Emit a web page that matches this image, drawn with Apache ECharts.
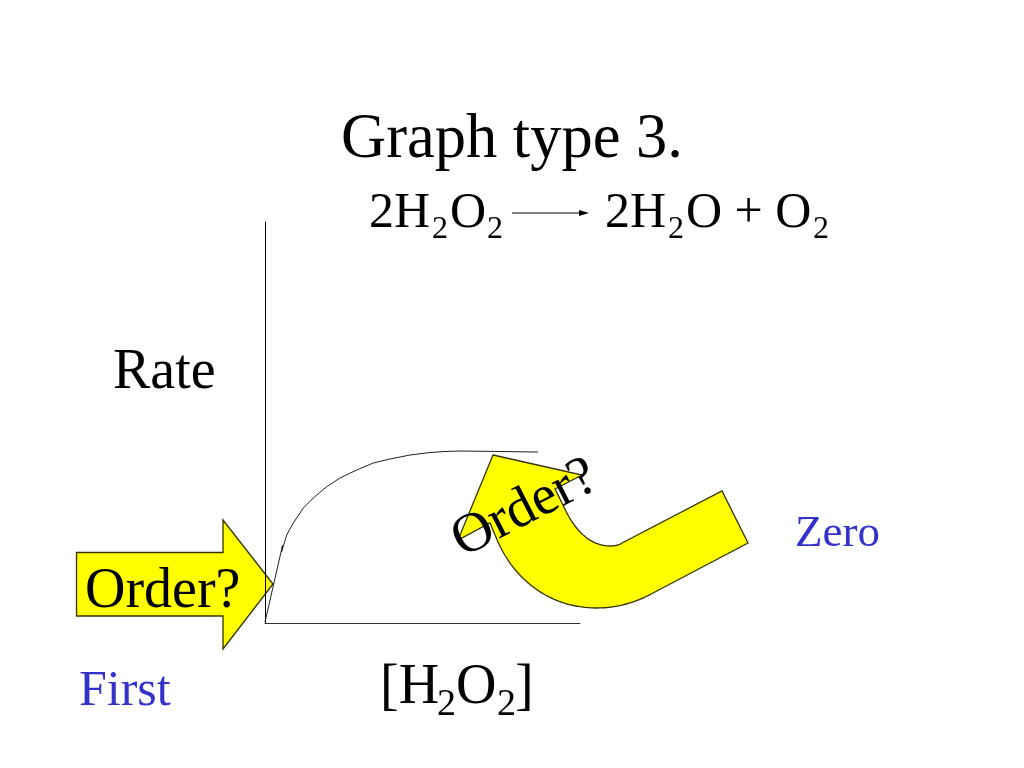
<!DOCTYPE html>
<html><head><meta charset="utf-8">
<style>html,body{margin:0;padding:0;background:#fff}#c{width:1024px;height:768px}</style>
<script src="https://cdn.jsdelivr.net/npm/echarts@6/dist/echarts.min.js"></script>
</head><body><div id="c"></div>
<script>
// Data (concentration, rate) in plot units
const concentration = [0, 17.5, 16.5, 21.7, 28.3, 38.3, 48.3, 61.7, 75, 91.7, 108.3, 125, 145, 165, 180, 195, 235, 273];
const rate = [1, 77.5, 71, 88, 100, 115, 125, 136.3, 145, 153, 160, 164, 168, 170.5, 171.5, 172, 171.5, 171];
const titleText = 'Graph type 3.';
const yAxisLabel = 'Rate';
const orderLabel = 'Order?';
const firstLabel = 'First';
const zeroLabel = 'Zero';

const SERIF = '"Liberation Serif","Times New Roman",serif';
function txt(s, x, y, size, color, extra) {
  return Object.assign({
    type: 'text', x, y, z: 20,
    style: { text: s, font: size + 'px ' + SERIF, fill: color || '#000', textAlign: 'left', textVerticalAlign: 'bottom' }
  }, extra || {});
}
const bl = (base, size) => base + Math.round(size * 0.27);
// outline builder: appends a cubic curve to a polygon outline
function curve(pts, c1, c2, end) {
  const s = pts[pts.length - 1];
  for (let k = 1; k <= 24; k++) {
    const t = k / 24, u = 1 - t;
    pts.push([0, 1].map(i => u*u*u*s[i] + 3*u*u*t*c1[i] + 3*u*t*t*c2[i] + t*t*t*end[i]));
  }
  return pts;
}
const bent = [[493,455],[582,475],[555,489],[563,505]];
curve(bent, [574,530],[590,546],[610,546]);
curve(bent, [615,546],[619,545],[622,543]);
bent.push([722,491],[748,543],[653,593]);
curve(bent, [635,603],[616,608],[597,608]);
curve(bent, [550,608],[515,580],[498,542]);
bent.push([490,523],[458,540]);

const pairs = concentration.map((c, i) => [c, rate[i]]);
const chart = echarts.init(document.getElementById('c'), null, { renderer: 'canvas' });
chart.setOption({
  backgroundColor: '#ffffff',
  animation: false,
  grid: { left: 265, top: 222, width: 315, height: 401 },
  xAxis: { type: 'value', min: 0, max: 315, z: 5, splitLine: { show: false }, axisTick: { show: false }, axisLabel: { show: false },
    axisLine: { show: true, onZero: false, lineStyle: { color: '#333', width: 1 } } },
  yAxis: { type: 'value', min: 0, max: 401, z: 5, splitLine: { show: false }, axisTick: { show: false }, axisLabel: { show: false },
    axisLine: { show: true, onZero: false, lineStyle: { color: '#000', width: 1 } } },
  series: [{ type: 'line', data: pairs, z: 6, showSymbol: false, symbol: 'none', smooth: false, silent: true,
    lineStyle: { color: '#222', width: 1 } }],
  graphic: { elements: [
    { type: 'polygon', z: 1, shape: { points: [[76.5,552.5],[223,552.5],[223,520],[273,584],[223,649],[223,616],[76.5,616]] },
      style: { fill: '#ffff00', stroke: '#333300', lineWidth: 1.3 } },
    { type: 'polygon', z: 1, shape: { points: bent }, style: { fill: '#ffff00', stroke: '#333300', lineWidth: 1.3 } },
    txt(titleText, 341, bl(155, 62.5), 62.5),
    txt('2H', 369, bl(225, 50), 50), txt('2', 432, bl(237, 32), 32),
    txt('O', 450, bl(225, 50), 50), txt('2', 487, bl(237, 32), 32),
    { type: 'line', z: 20, shape: { x1: 512, y1: 213, x2: 584, y2: 213 }, style: { stroke: '#000', lineWidth: 1.2 } },
    { type: 'polygon', z: 20, shape: { points: [[589,213],[579,210],[579,216]] }, style: { fill: '#000' } },
    txt('2H', 605, bl(225, 50), 50), txt('2', 668, bl(237, 32), 32),
    txt('O + O', 686, bl(225, 50), 50), txt('2', 813, bl(237, 32), 32),
    txt(yAxisLabel, 113, bl(386, 56), 56),
    txt(orderLabel, 85, bl(605, 56), 56),
    { type: 'text', z: 20, x: 525, y: 509, rotation: 27 * Math.PI / 180,
      style: { text: orderLabel, font: '56px ' + SERIF, fill: '#000', textAlign: 'center', textVerticalAlign: 'middle' } },
    txt(firstLabel, 79, bl(703, 50), 50, '#3333cc'),
    txt(zeroLabel, 795, bl(545, 45), 45, '#3333cc'),
    txt('[H', 380, bl(701, 56), 56), txt('2', 437, bl(714, 38), 38),
    txt('O', 456, bl(701, 56), 56), txt('2', 497, bl(714, 38), 38), txt(']', 515, bl(701, 56), 56)
  ] }
});
</script></body></html>
